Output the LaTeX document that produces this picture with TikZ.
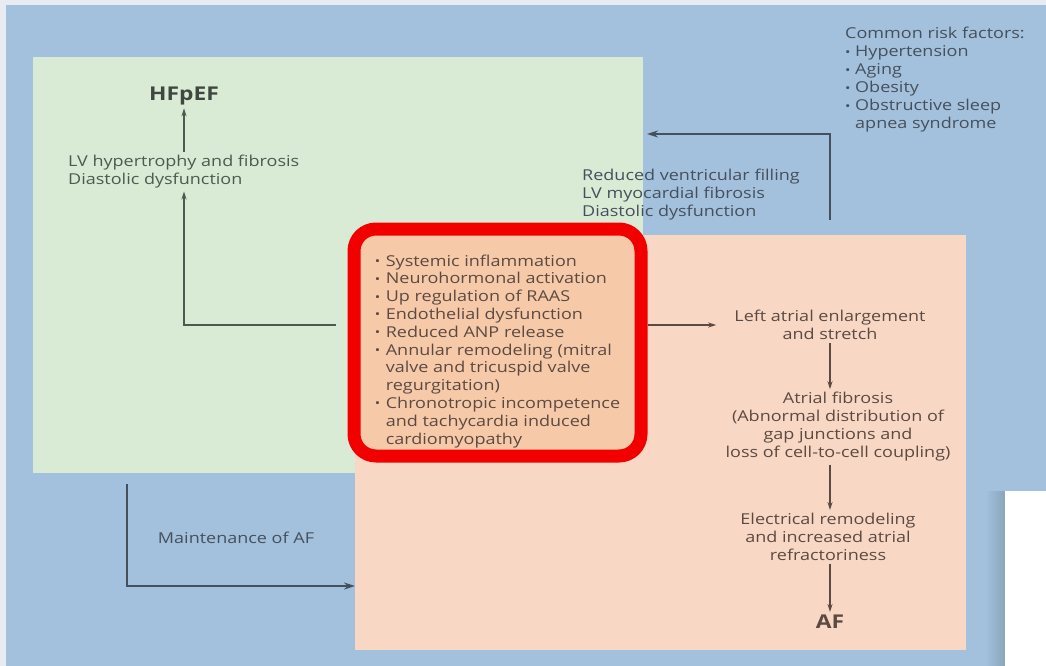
\documentclass[tikz,border=0pt]{standalone}
\usepackage{fontspec}
\setmainfont{Open Sans}[FakeStretch=1.2]
\usetikzlibrary{arrows.meta,positioning}
\definecolor{bgframe}{HTML}{E8ECF2}
\definecolor{bgblue}{HTML}{A3C1DD}
\definecolor{hfgreen}{HTML}{D9EAD5}
\definecolor{afpeach}{HTML}{F8D8C4}
\definecolor{mechfill}{HTML}{F6C9A8}
\definecolor{mechred}{HTML}{F20000}
\definecolor{inkblue}{HTML}{46505C}
\definecolor{inkgreen}{HTML}{4E5A50}
\definecolor{inkbrown}{HTML}{5C4A42}
\newcommand{\bul}{\raisebox{0.5pt}{\fontsize{12}{12}\selectfont\textbullet}}
\tikzset{%
	panel/.style    = {rectangle, inner sep=0pt, anchor=north west}, % Area
	txt/.style      = {font=\fontsize{15}{18}\selectfont, inner sep=3pt}, % Text
	head/.style     = {font=\fontsize{19}{22}\selectfont\bfseries, inner sep=3pt}, % Outcome
	mechbox/.style  = {draw=mechred, fill=mechfill, line width=13pt, rounded corners=22pt,
	                   minimum width=287pt, minimum height=227pt,
	                   text=inkbrown, font=\fontsize{15}{17.8}\selectfont},
	arrow/.style    = {line width=1.8pt, draw=inkblue, -{Stealth[length=11pt,width=7pt]}},
	garrow/.style   = {line width=1.4pt, draw=inkgreen, -{Stealth[length=8pt,width=5pt]}},
	parrow/.style   = {line width=1.4pt, draw=inkbrown, -{Stealth[length=8pt,width=5pt]}},
}
\begin{document}
\begin{tikzpicture}[x=1pt, y=-1pt]
	\useasboundingbox (0,0) rectangle (1046,666);
	\fill[bgframe] (0,0) rectangle (1046,666);
	\fill[bgblue] (6,5) rectangle (1046,666);
	\shade[left color=bgblue, right color=bgblue!85!black] (985,491) rectangle (1005,666);
	\fill[white] (1005,491) rectangle (1046,666);

	\node[panel, fill=hfgreen, minimum width=610pt, minimum height=416pt] (hfbox) at (33,57) {};
	\node[panel, fill=afpeach, minimum width=611pt, minimum height=415pt] (afbox) at (355,235) {};

	\node[txt, text=inkblue, anchor=north west, inner sep=0pt] (risk) at (845,26)
		{\begin{tabular}{@{}p{10pt}@{}l@{}}
		 \multicolumn{2}{@{}l@{}}{Common risk factors:}\\
		 \bul & Hypertension\\
		 \bul & Aging\\
		 \bul & Obesity\\
		 \bul & Obstructive sleep\\
		      & apnea syndrome
		 \end{tabular}};
	\node[head, text=inkgreen!80!black] (hfpef) at (184,96) {HFpEF};
	\node[txt, text=inkgreen, anchor=north west, align=left] (lvhyp) at (65,152)
		{LV hypertrophy and fibrosis\\Diastolic dysfunction};
	\node[txt, text=inkblue, anchor=north west, align=left] (reduced) at (579,166)
		{Reduced ventricular filling\\LV myocardial fibrosis\\Diastolic dysfunction};
	\node[mechbox] (mech) at (497.5,342.5)
		{\raisebox{-9pt}[\height][\depth]{\begin{tabular}{@{}p{11pt}@{}l@{}}
		 \bul & Systemic inflammation\\
		 \bul & Neurohormonal activation\\
		 \bul & Up regulation of RAAS\\
		 \bul & Endothelial dysfunction\\
		 \bul & Reduced ANP release\\
		 \bul & Annular remodeling (mitral\\
		      & valve and tricuspid valve\\
		      & regurgitation)\\
		 \bul & Chronotropic incompetence\\
		      & and tachycardia induced\\
		      & cardiomyopathy
		 \end{tabular}}};
	\node[txt, text=inkbrown, align=center] (lae) at (830,325)
		{Left atrial enlargement\\and stretch};
	\node[txt, text=inkbrown, align=center] (fib) at (838,427)
		{Atrial fibrosis\\(Abnormal distribution of\\gap junctions and\\loss of cell-to-cell coupling)};
	\node[txt, text=inkbrown, align=center] (elec) at (828,537)
		{Electrical remodeling\\and increased atrial\\refractoriness};
	\node[head, text=inkbrown] (af) at (830,622) {AF};
	\node[txt, text=inkblue] (maint) at (236,538) {Maintenance of AF};
	\coordinate (fillstart) at (830,220);
	\coordinate (fillend) at (647,134);
	\coordinate (maintstart) at (127,484);

	\draw[garrow] (lvhyp.north -| hfpef.south) -- (hfpef.south);
	\draw[garrow] ([xshift=-12pt]mech.west |- lae.west) -| (lvhyp.south -| hfpef.south);
	\draw[parrow] (mech.east |- lae.west) -- ([xshift=-15pt]lae.west);
	\draw[parrow] (lae.south) -- (lae.south |- fib.north);
	\draw[parrow] (lae.south |- fib.south) -- (lae.south |- elec.north);
	\draw[parrow] (lae.south |- elec.south) -- (af.north);
	\draw[arrow] (fillstart) |- (fillend);
	\draw[arrow] (maintstart) |- (afbox.west |- 0,586);
\end{tikzpicture}
\end{document}
